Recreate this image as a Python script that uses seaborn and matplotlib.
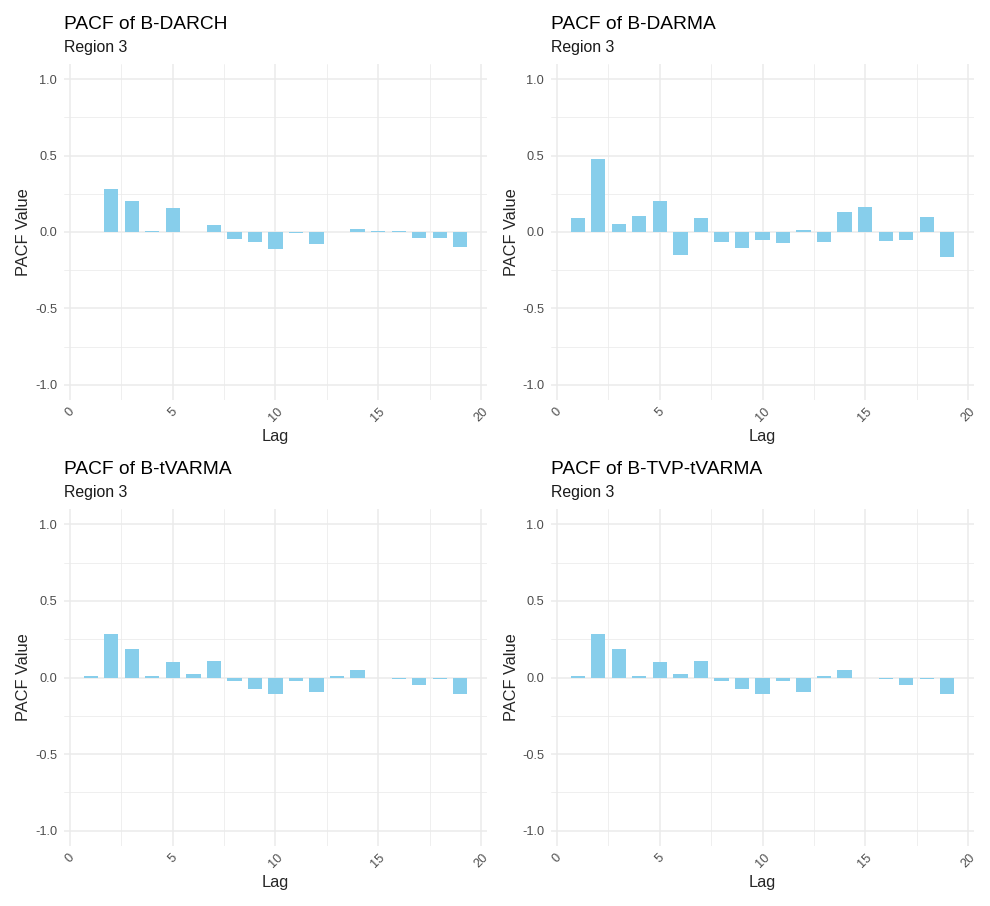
import numpy as np
import pandas as pd
import matplotlib
matplotlib.use("Agg")
import matplotlib.pyplot as plt
import seaborn as sns

# --- data: PACF values, lags 1..19 ---
lags = list(range(1, 20))
models = ["B-DARCH", "B-DARMA", "B-tVARMA", "B-TVP-tVARMA"]
region = "Region 3"

pacf_darch = [0.0, 0.281, 0.203, 0.007, 0.157, 0.0, 0.046, -0.046, -0.065, -0.111,
              -0.007, -0.078, 0.0, 0.020, 0.007, 0.005, -0.039, -0.039, -0.098]
pacf_darma = [0.092, 0.477, 0.052, 0.105, 0.203, -0.150, 0.092, -0.065, -0.105, -0.052,
              -0.072, 0.013, -0.065, 0.131, 0.163, -0.059, -0.052, 0.098, -0.163]
pacf_tvarma = [0.013, 0.281, 0.183, 0.007, 0.098, 0.026, 0.105, -0.026, -0.078, -0.105,
               -0.026, -0.092, 0.013, 0.046, 0.0, -0.013, -0.046, -0.007, -0.105]
pacf_tvp_tvarma = [0.013, 0.281, 0.183, 0.007, 0.098, 0.026, 0.105, -0.026, -0.078, -0.105,
                   -0.026, -0.092, 0.013, 0.046, 0.0, -0.013, -0.046, -0.007, -0.105]

series = [pacf_darch, pacf_darma, pacf_tvarma, pacf_tvp_tvarma]

sns.set_theme(style="white")
plt.rcParams['font.family'] = ['Liberation Sans', 'DejaVu Sans']
plt.rcParams['axes.unicode_minus'] = False

W, H = 990, 906
fig = plt.figure(figsize=(W / 100, H / 100), dpi=100)

# panel boxes in pixels (left, top, right, bottom)
boxes = [(64, 64, 487, 400), (551, 64, 974, 400),
         (64, 509, 487, 846), (551, 509, 974, 846)]

bar_color = "#87CEEB"
grid_col = "#ebebeb"

for name, vals, (l, t, r, b) in zip(models, series, boxes):
    ax = fig.add_axes([l / W, 1 - b / H, (r - l) / W, (b - t) / H])
    df = pd.DataFrame({"Lag": lags, "PACF": vals})
    sns.barplot(data=df, x="Lag", y="PACF", native_scale=True, width=0.7,
                color=bar_color, saturation=1, linewidth=0, ax=ax, zorder=3)

    ax.set_xlim(-0.3, 20.3)
    ax.set_ylim(-1.1, 1.1)
    ax.set_xticks([0, 5, 10, 15, 20])
    ax.set_xticks([2.5, 7.5, 12.5, 17.5], minor=True)
    ax.set_yticks([-1.0, -0.5, 0.0, 0.5, 1.0])
    ax.set_yticks([-0.75, -0.25, 0.25, 0.75], minor=True)
    ax.set_yticklabels(["-1.0", "-0.5", "0.0", "0.5", "1.0"])
    ax.grid(which="major", color=grid_col, linewidth=1.1, zorder=0)
    ax.grid(which="minor", color=grid_col, linewidth=0.55, zorder=0)
    ax.set_axisbelow(True)
    ax.tick_params(which="both", length=0)
    ax.tick_params(axis="y", labelsize=9.2, labelcolor="#4d4d4d", pad=5)
    ax.tick_params(axis="x", labelsize=9.2, labelcolor="#4d4d4d", pad=4,
                   labelrotation=45)
    for s in ax.spines.values():
        s.set_visible(False)
    ax.set_xlabel("")
    ax.set_ylabel("")

    # titles, axis labels
    fig.text(l / W, 1 - (t - 35) / H, f"PACF of {name}", fontsize=13.8,
             ha="left", va="baseline", color="black")
    fig.text(l / W, 1 - (t - 12) / H, region, fontsize=11.4,
             ha="left", va="baseline", color="#1a1a1a")
    fig.text((l + r) / 2 / W, 1 - (b + 41) / H, "Lag", fontsize=11.8,
             ha="center", va="baseline")
    fig.text((l - 40) / W, 1 - (t + b) / 2 / H, "PACF Value", fontsize=11.8,
             ha="center", va="center", rotation=90)

fig.savefig("out.png", dpi=100, facecolor="white")
